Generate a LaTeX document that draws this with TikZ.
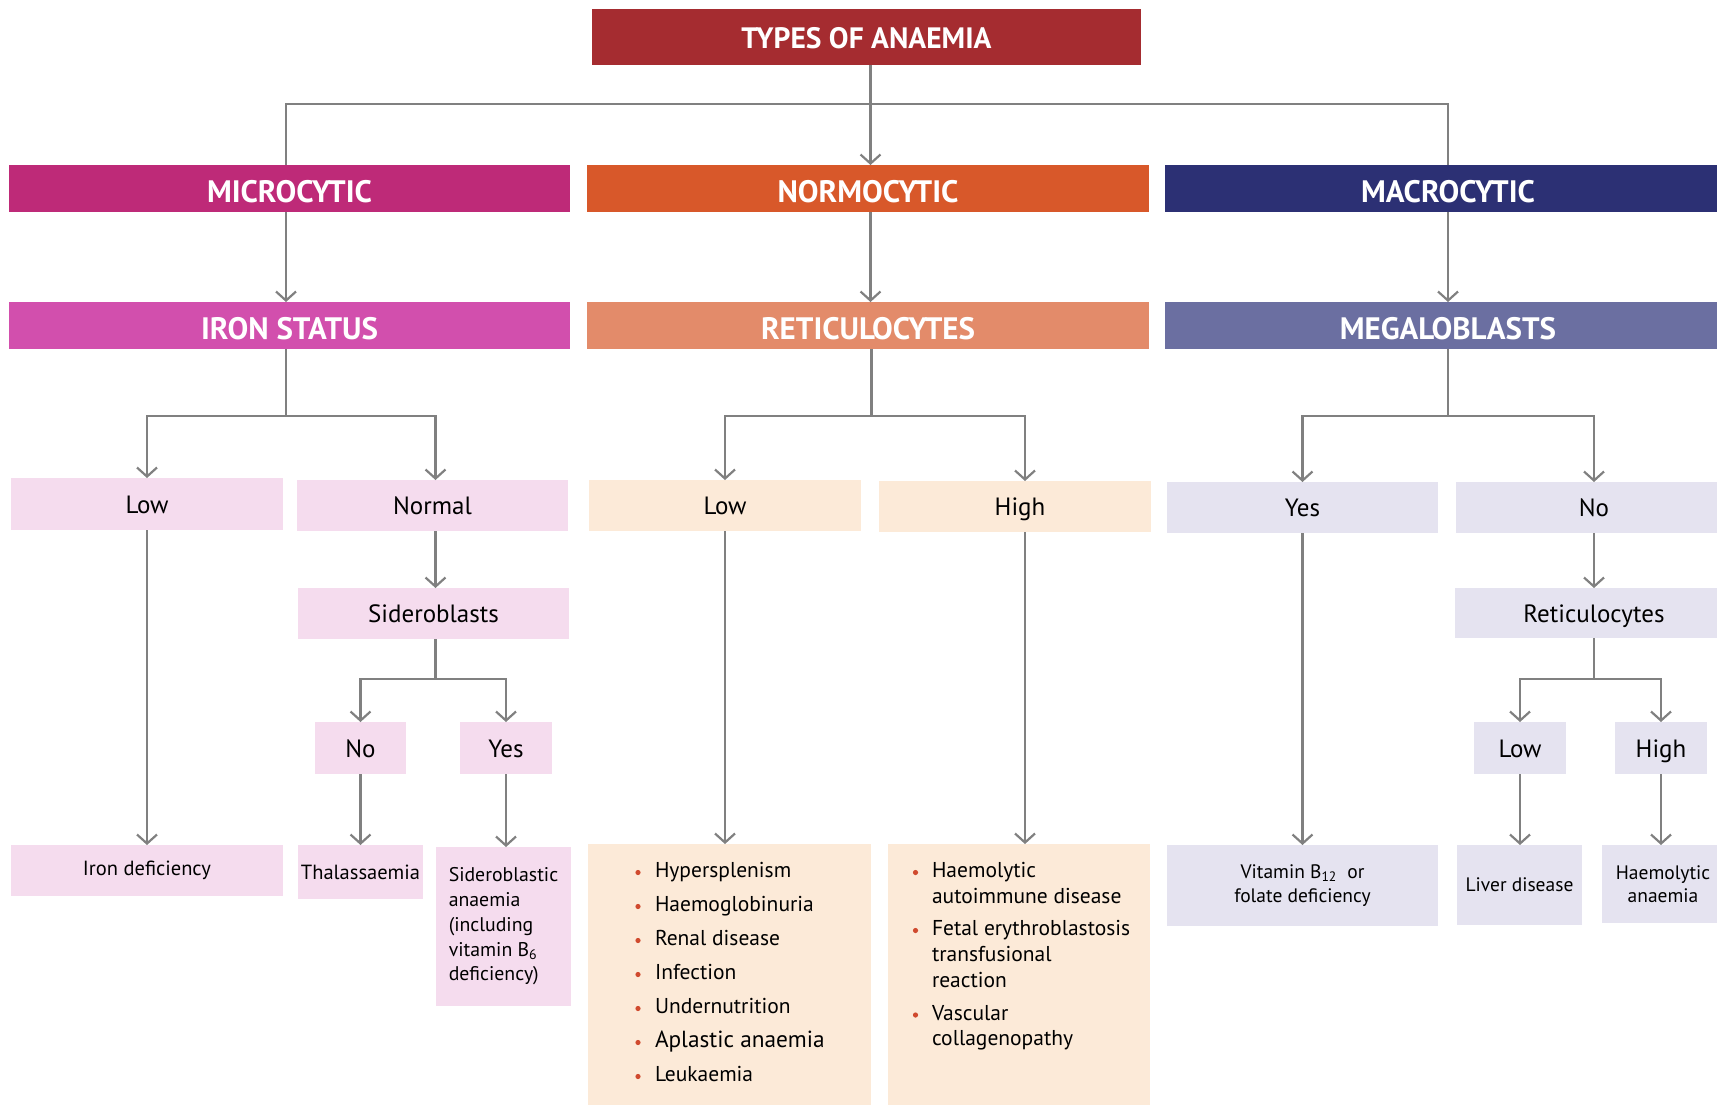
\documentclass[tikz,border=0pt]{standalone}
\usepackage{fontspec}
\setmainfont{PT Sans}
\usetikzlibrary{arrows.meta}
\definecolor{ctitle}{HTML}{A52C30}
\definecolor{cmicro}{HTML}{BE2A78}
\definecolor{ciron}{HTML}{D24FAD}
\definecolor{cnormo}{HTML}{D8582A}
\definecolor{cretic}{HTML}{E38B6A}
\definecolor{cmacro}{HTML}{2C3074}
\definecolor{cmega}{HTML}{6B6FA1}
\definecolor{cpink}{HTML}{F5DCEE}
\definecolor{corange}{HTML}{FCEAD8}
\definecolor{clav}{HTML}{E5E3F0}
\definecolor{cline}{HTML}{808080}
\definecolor{cbul}{HTML}{D04A2E}
\begin{document}
\begin{tikzpicture}[x=1pt,y=-1pt,
  box/.style={rectangle, inner sep=0pt, outer sep=0pt, draw=none},
  hdr/.style={box, text=white, font=\fontsize{31}{34}\selectfont\bfseries, text height=28pt, text depth=0pt},
  lvl/.style={box, font=\fontsize{25}{30}\selectfont, text height=18pt, text depth=0pt},
  leaf/.style={box, font=\fontsize{19.5}{23.5}\selectfont, align=center},
  itm/.style={inner sep=0pt, outer sep=0pt, font=\fontsize{21.5}{24}\selectfont},
  ln/.style={draw=cline, line width=2.2pt},
  arr/.style={ln, -{Straight Barb[length=9pt,width=20pt]}}
]
\useasboundingbox (0,0) rectangle (1717,1106);

% title and level 1
\node[hdr, fill=ctitle, font=\fontsize{29.5}{32}\selectfont\bfseries, text height=22pt, text depth=0pt, minimum width=549pt, minimum height=56pt] (title) at (866.5,37) {TYPES OF ANAEMIA};
\node[hdr, fill=cmicro, minimum width=561pt, minimum height=47pt] (micro) at (289.5,188.5) {MICROCYTIC};
\node[hdr, fill=cnormo, minimum width=562pt, minimum height=47pt] (normo) at (868,188.5) {NORMOCYTIC};
\node[hdr, fill=cmacro, minimum width=566pt, minimum height=47pt] (macro) at (1448,188.5) {MACROCYTIC};

% level 2
\node[hdr, fill=ciron, minimum width=561pt, minimum height=47pt] (iron) at (289.5,325.5) {IRON STATUS};
\node[hdr, fill=cretic, minimum width=562pt, minimum height=47pt] (retic) at (868,325.5) {RETICULOCYTES};
\node[hdr, fill=cmega, minimum width=566pt, minimum height=47pt] (mega) at (1448,325.5) {MEGALOBLASTS};

% level 3
\node[lvl, fill=cpink, minimum width=272pt, minimum height=52pt] (lowI) at (147,504) {Low};
\node[lvl, fill=cpink, minimum width=271pt, minimum height=51pt] (normal) at (432.5,505.5) {Normal};
\node[lvl, fill=corange, minimum width=272pt, minimum height=51pt] (lowN) at (725,505.5) {Low};
\node[lvl, fill=corange, minimum width=272pt, minimum height=51pt] (highN) at (1015,506.5) {\hspace*{10pt}High};
\node[lvl, fill=clav, minimum width=271pt, minimum height=51pt] (yesM) at (1302.5,507.5) {Yes};
\node[lvl, fill=clav, minimum width=276pt, minimum height=51pt] (noM) at (1594,507.5) {No};

\node[lvl, fill=cpink, minimum width=271pt, minimum height=51pt] (sider) at (433.5,613.5) {Sideroblasts};
\node[lvl, fill=clav, minimum width=278pt, minimum height=50pt] (retM) at (1594,613) {Reticulocytes};

\node[lvl, fill=cpink, minimum width=91pt, minimum height=52pt] (noS) at (360.5,748) {No};
\node[lvl, fill=cpink, minimum width=92pt, minimum height=52pt] (yesS) at (506,748) {Yes};
\node[lvl, fill=clav, minimum width=92pt, minimum height=52pt] (lowR) at (1520,748) {Low};
\node[lvl, fill=clav, minimum width=92pt, minimum height=52pt] (highR) at (1661,748) {High};

% leaves
\node[leaf, fill=cpink, font=\fontsize{20.5}{24}\selectfont, minimum width=272pt, minimum height=51pt] (ironDef) at (147,870.5) {Iron deficiency};
\node[leaf, fill=cpink, font=\fontsize{20.5}{24}\selectfont, minimum width=125pt, minimum height=54pt] (thal) at (360.5,872) {Thalassaemia};
\node[leaf, fill=cpink, minimum width=135pt, minimum height=159pt, align=left, font=\fontsize{19.8}{24.7}\selectfont] (sidA) at (503.5,926.5) {Sideroblastic\\anaemia\\(including\\vitamin B\textsubscript{6}\\deficiency)};
\node[box, fill=corange, minimum width=283pt, minimum height=261pt] (listLow) at (729.5,974.5) {};
\node[box, fill=corange, minimum width=262pt, minimum height=261pt] (listHigh) at (1019,974.5) {};
\node[leaf, fill=clav, minimum width=271pt, minimum height=81pt] (vitB) at (1302.5,885.5) {Vitamin B\textsubscript{12}\ \ or\\folate deficiency};
\node[leaf, fill=clav, minimum width=125pt, minimum height=80pt] (liver) at (1519.5,885) {Liver disease};
\node[leaf, fill=clav, minimum width=122pt, minimum height=78pt] (haemA) at (1663,884) {Haemolytic\\anaemia};

% list texts
\foreach \t [count=\i from 0] in {Hypersplenism,Haemoglobinuria,Renal disease,Infection,Undernutrition,{\fontsize{23.3}{26}\selectfont Aplastic anaemia},Leukaemia}{
  \node[itm, anchor=mid west] (lo\i) at (655,{875+34*\i}) {\t};
  \fill[cbul] (638,{872.5+34*\i}) circle (2.6pt);
}
\node[itm, anchor=mid west] (hi1) at (932,875) {Haemolytic};
\node[itm, anchor=mid west] (hi2) at (932,900.5) {autoimmune disease};
\node[itm, anchor=mid west] (hi3) at (932,933) {Fetal erythroblastosis};
\node[itm, anchor=mid west] (hi4) at (932,958.5) {transfusional};
\node[itm, anchor=mid west] (hi5) at (932,984.5) {reaction};
\node[itm, anchor=mid west] (hi6) at (932,1017.5) {Vascular};
\node[itm, anchor=mid west] (hi7) at (932,1043) {collagenopathy};
\fill[cbul] (915.5,872.5) circle (2.6pt);
\fill[cbul] (915.5,930.5) circle (2.6pt);
\fill[cbul] (915.5,1015) circle (2.6pt);

% connectors top
\coordinate (bar) at (870.5,104);
\draw[ln] ([xshift=4pt]title.south) -- (bar);
\draw[ln] ([xshift=-3.5pt]micro.north) |- (bar) -| (macro.north);
\draw[arr] (bar) -- (bar |- normo.north);

\draw[arr] ([xshift=-3.5pt]micro.south) -- ([xshift=-3.5pt]iron.north);
\draw[arr] ([xshift=2.5pt]normo.south) -- ([xshift=2.5pt]retic.north);
\draw[arr] (macro.south) -- (mega.north);

% branches level 2 -> 3
\coordinate (ib) at ([xshift=-3.5pt]iron.south |- 0,416);
\draw[ln] ([xshift=-3.5pt]iron.south) -- (ib);
\draw[arr] (ib) -| (lowI.north);
\draw[arr] (ib) -| ([xshift=3pt]normal.north);
\coordinate (rb) at ([xshift=3.5pt]retic.south |- 0,416);
\draw[ln] ([xshift=3.5pt]retic.south) -- (rb);
\draw[arr] (rb) -| (lowN.north);
\draw[arr] (rb) -| ([xshift=10pt]highN.north);
\coordinate (mb) at (mega.south |- 0,416);
\draw[ln] (mega.south) -- (mb);
\draw[arr] (mb) -| (yesM.north);
\draw[arr] (mb) -| (noM.north);

\draw[arr] ([xshift=3pt]normal.south) -- ([xshift=3pt]normal.south |- sider.north);
\draw[arr] (noM.south) -- (retM.north);

\coordinate (sb) at ([xshift=2pt]sider.south |- 0,679);
\draw[ln] ([xshift=2pt]sider.south) -- (sb);
\draw[arr] (sb) -| (noS.north);
\draw[arr] (sb) -| (yesS.north);
\coordinate (tb) at (retM.south |- 0,679);
\draw[ln] (retM.south) -- (tb);
\draw[arr] (tb) -| (lowR.north);
\draw[arr] (tb) -| (highR.north);

% to leaves
\draw[arr] (lowI.south) -- (lowI.south |- ironDef.north);
\draw[arr] (noS.south) -- (noS.south |- thal.north);
\draw[arr] (yesS.south) -- (yesS.south |- sidA.north);
\draw[arr] (lowN.south) -- (lowN.south |- listLow.north);
\draw[arr] ([xshift=10pt]highN.south) -- ([xshift=10pt]highN.south |- listHigh.north);
\draw[arr] (yesM.south) -- (yesM.south |- vitB.north);
\draw[arr] (lowR.south) -- (lowR.south |- liver.north);
\draw[arr] (highR.south) -- (highR.south |- haemA.north);
\end{tikzpicture}
\end{document}
